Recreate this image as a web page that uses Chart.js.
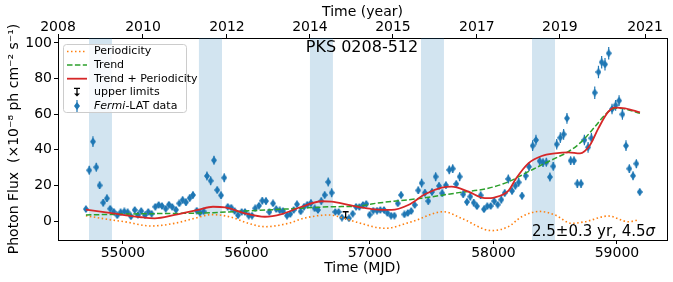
<!DOCTYPE html>
<html><head><meta charset="utf-8">
<script src="https://cdn.jsdelivr.net/npm/chart.js@4"></script>
<style>html,body{margin:0;padding:0;background:#fff;}</style>
</head><body>
<canvas id="c" width="673" height="282"></canvas>
<script>
// ---- data ----
const mjd = [
 54700,54727,54757,54784,54811,54840,54870,54897,54925,54954,
 54981,55011,55038,55065,55095,55121,55148,55178,55205,55232,
 55262,55289,55316,55346,55372,55399,55429,55456,55483,55510,
 55540,55567,55597,55623,55653,55680,55710,55737,55763,55794,
 55820,55848,55877,55904,55931,55961,55988,56018,56045,56071,
 56101,56128,56158,56185,56215,56241,56269,56296,56328,56355,
 56382,56409,56439,56466,56493,56522,56552,56579,56606,56633,
 56662,56690,56719,56746,56773,56830,56860,56887,56914,56943,
 56970,56997,57027,57057,57084,57114,57141,57171,57198,57225,
 57252,57279,57306,57334,57362,57391,57418,57445,57472,57502,
 57532,57559,57585,57615,57642,57670,57699,57726,57755,57785,
 57812,57840,57866,57896,57923,57950,57977,58006,58034,58063,
 58091,58120,58150,58177,58204,58231,58261,58288,58317,58344,
 58374,58401,58428,58457,58484,58512,58541,58568,58595,58625,
 58652,58679,58709,58736,58766,58793,58820,58850,58876,58903,
 58933,58960,58989,59017,59044,59073,59100,59130,59157,59184];
const flux = [
 6.7,28.5,44.6,30.2,20.0,10.3,12.7,6.9,5.2,3.2,
 4.9,5.4,4.9,2.6,6.2,3.4,5.6,3.2,5.1,4.1,
 8.0,9.0,8.4,6.9,9.2,7.9,6.3,9.9,11.8,10.5,
 12.9,14.6,5.8,4.7,5.4,25.3,22.6,34.1,17.4,14.4,
 24.3,8.0,7.5,5.6,3.2,5.1,5.1,3.0,3.0,7.1,
 8.6,11.4,11.2,5.1,9.9,6.7,6.0,5.6,3.0,3.9,
 6.2,9.4,5.4,8.0,9.2,10.1,7.1,6.2,11.2,14.6,
 21.9,15.9,5.1,5.1,1.9,1.5,4.1,8.0,7.9,9.0,
 9.6,3.5,5.8,5.8,6.2,6.2,4.5,3.0,3.0,9.9,
 14.6,3.7,4.5,5.6,9.0,17.2,21.3,15.9,11.2,16.3,
 24.9,19.7,15.6,20.1,28.7,29.4,20.8,24.9,15.0,10.7,
 13.7,10.3,8.3,14.4,6.6,8.3,8.4,11.2,9.2,12.0,
 15.7,23.6,16.9,19.8,21.7,14.2,25.4,30.5,42.3,45.5,
 33.7,32.8,33.0,24.7,30.7,43.1,46.8,48.7,57.7,33.9,
 33.9,21.0,21.0,45.5,41.4,46.5,72.1,83.7,89.2,88.0,
 94.2,62.9,65.0,67.6,59.9,42.3,29.4,25.4,32.2,16.3];
const fluxErr = [
 1.5,2.5,3,2.5,2,2,2,1.5,1.5,1.5,
 1.5,1.5,1.5,1.5,1.5,1.5,1.5,1.5,1.5,1.5,
 1.5,1.5,1.5,1.5,1.5,1.5,1.5,1.5,2,2,
 2,2,1.5,1.5,1.5,2.5,2.5,2.5,2,2,
 2.5,1.5,1.5,1.5,1.5,1.5,1.5,1.5,1.5,1.5,
 1.5,2,2,1.5,1.5,1.5,1.5,1.5,1.5,1.5,
 1.5,1.5,1.5,1.5,1.5,2,1.5,1.5,2,2,
 2.5,2.5,1.5,1.5,1.5,1.5,1.5,1.5,1.5,1.5,
 1.5,1.5,1.5,1.5,1.5,1.5,1.5,1.5,1.5,1.5,
 2,1.5,1.5,1.5,1.5,2,2.5,2,2,2,
 2.5,2,2,2,2.5,2.5,2,2.5,2,2,
 2,2,1.5,2,1.5,1.5,1.5,2,1.5,2,
 2,2.5,2,2,2.5,2,2.5,2.5,3,3,
 2.5,2.5,2.5,2.5,2.5,3,3,3,3,2.5,
 2.5,2.5,2.5,3,3,3,3.5,3.5,3.5,3.5,
 3.5,3,3,3,3,3,2.5,2.5,2.5,2];
const ulMJD = [56803];
const ulFlux = [5.2];

const perMJD  = [54700,54878,55013,55229,55419,55580,55718,55880,56015,56150,56339,56474,56670,56760,56900,57121,57338,57595,57742,57985,58120,58228,58375,58498,58633,58741,58930,59092,59173];
const perFlux = [3.0,0.9,-0.4,-2.8,-1.3,1.5,3.6,2.1,-1.3,-3.2,-1.3,1.7,3.4,2.2,-0.8,-4.1,-0.4,5.2,1.5,-5.4,-3.2,2.4,5.4,3.4,-1.3,-0.4,2.8,-0.4,0.6];

const trendMJD  = [54700,55013,55729,55988,56312,56690,56919,57013,57418,57688,57958,58120,58282,58390,58498,58606,58714,58822,58903,58984,59060,59186];
const trendFlux = [3.4,3.9,4.7,5.6,6.7,8.0,8.4,9.6,12.8,15.6,18.4,22.0,27.7,31.5,35.2,38.9,44.6,53.0,59.6,63.3,63.0,60.5];

const fitMJD  = [54700,54878,55148,55257,55419,55607,55729,55826,55988,56150,56285,56447,56609,56690,56825,56919,57013,57175,57310,57445,57580,57661,57796,57931,58012,58120,58184,58282,58390,58498,58606,58701,58782,58849,58930,58984,59065,59186];
const fitFlux = [6.4,4.7,2.1,1.5,3.4,6.2,8.0,7.7,4.3,2.4,3.9,8.0,11.1,10.9,9.0,7.7,6.7,6.2,9.0,15.0,18.7,19.3,16.5,12.8,13.3,16.9,24.0,32.4,36.5,38.0,38.6,38.0,42.7,52.0,61.4,63.7,63.3,61.0];

const spanStart = [54725,55615,56514,57413,58312];
const spanEnd   = [54911,55802,56700,57599,58498];

const mjdTicks = [55000,56000,57000,58000,59000];
const fluxTicks = [0,20,40,60,80,100];
const yearTickMJD = [54474,55162,55842,56514,57186,57866,58538,59227];
const yearLabels = ['2008','2010','2012','2014','2015','2017','2019','2021'];

const seriesLabels = ['Periodicity','Trend','Trend + Periodicity','upper limits','Fermi-LAT data'];
const sourceName = 'PKS 0208-512';
const periodText = '2.5±0.3 yr, 4.5';

// ---- drawing ----
const FONT = '"DejaVu Sans", sans-serif';
Chart.defaults.font.family = FONT;
Chart.defaults.color = '#000';

const BLUE = '#1f77b4', ORANGE = '#ff7f0e', GREEN = '#2ca02c', RED = '#d62728';

const diamond = document.createElement('canvas');
diamond.width = 6; diamond.height = 8;
(function(){const g = diamond.getContext('2d'); g.fillStyle = BLUE; g.beginPath();
 g.moveTo(3,0); g.lineTo(6,4); g.lineTo(3,8); g.lineTo(0,4); g.closePath(); g.fill();})();

function drawUL(ctx, px, py){
  ctx.beginPath();
  ctx.moveTo(px-3, py); ctx.lineTo(px+3, py);
  ctx.moveTo(px, py); ctx.lineTo(px, py+6);
  ctx.stroke();
  ctx.beginPath();
  ctx.moveTo(px-3, py+5); ctx.lineTo(px+3, py+5); ctx.lineTo(px, py+8); ctx.closePath(); ctx.fill();
}

const extras = {
  id: 'extras',
  beforeDatasetsDraw(chart){
    const {ctx, chartArea:a, scales:{x, y}} = chart;
    ctx.save();
    ctx.fillStyle = 'rgba(31,119,180,0.2)';
    spanStart.forEach((s,i)=>{
      const x0 = x.getPixelForValue(s), x1 = x.getPixelForValue(spanEnd[i]);
      ctx.fillRect(x0, a.top, x1-x0, a.bottom-a.top);
    });
    const meta = chart.getDatasetMeta(0);
    ctx.strokeStyle = BLUE; ctx.lineWidth = 1.2;
    meta.data.forEach((pt,i)=>{
      const yt = y.getPixelForValue(flux[i]+fluxErr[i]);
      const yb = y.getPixelForValue(flux[i]-fluxErr[i]);
      ctx.beginPath(); ctx.moveTo(pt.x, yt); ctx.lineTo(pt.x, yb); ctx.stroke();
    });
    ctx.strokeStyle = '#000'; ctx.fillStyle = '#000'; ctx.lineWidth = 1.3;
    ulMJD.forEach((m,i)=>drawUL(ctx, x.getPixelForValue(m), y.getPixelForValue(ulFlux[i])));
    ctx.restore();
  },
  afterDraw(chart){
    const {ctx, chartArea:a} = chart;
    ctx.save();
    // right spine
    ctx.strokeStyle = '#000'; ctx.lineWidth = 1;
    ctx.beginPath(); ctx.moveTo(Math.round(a.right)+0.5, a.top); ctx.lineTo(Math.round(a.right)+0.5, a.bottom+0.5); ctx.stroke();
    // annotations
    ctx.fillStyle = '#000';
    ctx.textBaseline = 'middle';
    ctx.font = '16px ' + FONT;
    ctx.textAlign = 'center';
    ctx.fillText(sourceName, 362, 48);
    ctx.textAlign = 'left';
    ctx.font = 'italic 15px ' + FONT;
    const sigW = ctx.measureText('σ').width;
    ctx.font = '15px ' + FONT;
    const w = ctx.measureText(periodText).width;
    const xr = 655;
    ctx.fillText(periodText, xr - sigW - w, 232);
    ctx.font = 'italic 15px ' + FONT;
    ctx.fillText('σ', xr - sigW, 232);

    // legend
    const bx = 63.5, by = 44.5, bw = 123, bh = 68, r = 3;
    ctx.beginPath();
    ctx.moveTo(bx+r, by); ctx.lineTo(bx+bw-r, by); ctx.arcTo(bx+bw, by, bx+bw, by+r, r);
    ctx.lineTo(bx+bw, by+bh-r); ctx.arcTo(bx+bw, by+bh, bx+bw-r, by+bh, r);
    ctx.lineTo(bx+r, by+bh); ctx.arcTo(bx, by+bh, bx, by+bh-r, r);
    ctx.lineTo(bx, by+r); ctx.arcTo(bx, by, bx+r, by, r); ctx.closePath();
    ctx.fillStyle = 'rgba(255,255,255,0.8)'; ctx.fill();
    ctx.strokeStyle = '#cccccc'; ctx.lineWidth = 1; ctx.stroke();
    const rows = [51.5, 65, 78.7, 92.4, 106];
    const h0 = 67, h1 = 87, tx = 94, hc = 77;
    ctx.lineWidth = 1.5;
    ctx.setLineDash([1.5,2.5]); ctx.strokeStyle = ORANGE;
    ctx.beginPath(); ctx.moveTo(h0, rows[0]); ctx.lineTo(h1, rows[0]); ctx.stroke();
    ctx.setLineDash([5.5,2.4]); ctx.strokeStyle = GREEN;
    ctx.beginPath(); ctx.moveTo(h0, rows[1]); ctx.lineTo(h1, rows[1]); ctx.stroke();
    ctx.setLineDash([]); ctx.strokeStyle = RED; ctx.lineWidth = 1.8;
    ctx.beginPath(); ctx.moveTo(h0, rows[2]); ctx.lineTo(h1, rows[2]); ctx.stroke();
    ctx.strokeStyle = '#000'; ctx.fillStyle = '#000'; ctx.lineWidth = 1.3;
    drawUL(ctx, hc, rows[3]-4);
    ctx.strokeStyle = BLUE; ctx.lineWidth = 1.2;
    ctx.beginPath(); ctx.moveTo(hc, rows[4]-6); ctx.lineTo(hc, rows[4]+6); ctx.stroke();
    ctx.drawImage(diamond, hc-3, rows[4]-4);
    ctx.fillStyle = '#000';
    ctx.font = '11px ' + FONT;
    for (let i = 0; i < 4; i++) ctx.fillText(seriesLabels[i], tx, rows[i]);
    const lab = seriesLabels[4];
    const cut = lab.indexOf('-');
    ctx.font = 'italic 11px ' + FONT;
    ctx.fillText(lab.slice(0,cut), tx, rows[4]);
    const iw = ctx.measureText(lab.slice(0,cut)).width;
    ctx.font = '11px ' + FONT;
    ctx.fillText(lab.slice(cut), tx+iw, rows[4]);
    ctx.restore();
  }
};

const tickFont = {family: FONT, size: 14};
const axisCommon = {
  grid: {display:true, drawOnChartArea:false, drawTicks:true, tickLength:4, color:'#000', tickWidth:1},
  border: {display:true, color:'#000', width:1}
};

new Chart(document.getElementById('c'), {
  data: {
    datasets: [
      {type:'scatter', label: seriesLabels[4], data: mjd.map((v,i)=>({x:v, y:flux[i]})),
       pointStyle: diamond, pointRadius: 4, order: 10, xAxisID:'x', yAxisID:'y'},
      {type:'line', label: seriesLabels[0], data: perMJD.map((v,i)=>({x:v, y:perFlux[i]})),
       borderColor: ORANGE, borderWidth: 1.6, borderDash:[1.5,2.5], pointRadius:0, fill:false,
       cubicInterpolationMode:'monotone', order: 3, xAxisID:'x', yAxisID:'y'},
      {type:'line', label: seriesLabels[1], data: trendMJD.map((v,i)=>({x:v, y:trendFlux[i]})),
       borderColor: GREEN, borderWidth: 1.5, borderDash:[5.5,2.4], pointRadius:0, fill:false,
       cubicInterpolationMode:'monotone', order: 2, xAxisID:'x', yAxisID:'y'},
      {type:'line', label: seriesLabels[2], data: fitMJD.map((v,i)=>({x:v, y:fitFlux[i]})),
       borderColor: RED, borderWidth: 1.8, pointRadius:0, fill:false,
       cubicInterpolationMode:'monotone', order: 1, xAxisID:'x', yAxisID:'y'}
    ]
  },
  options: {
    responsive: false, animation: false, devicePixelRatio: 1,
    layout: {padding: {left:0, right:6, top:0, bottom:0}},
    plugins: {legend:{display:false}, tooltip:{enabled:false}},
    scales: {
      x: {type:'linear', position:'bottom', min:54474, max:59405, ...axisCommon,
        afterBuildTicks: s => { s.ticks = mjdTicks.map(v=>({value:v})); },
        afterFit: s => { s.height = 42; },
        ticks: {font: tickFont, color:'#000', padding:1, maxRotation:0, autoSkip:false, callback: v => String(v)},
        title: {display:true, text:'Time (MJD)', color:'#000', font:{family:FONT, size:14, lineHeight:1}, padding:{top:0, bottom:7}}
      },
      x2: {type:'linear', position:'top', min:54474, max:59405, ...axisCommon,
        afterBuildTicks: s => { s.ticks = yearTickMJD.map(v=>({value:v})); },
        afterFit: s => { s.height = 38; },
        ticks: {font: {family: FONT, size: 14, lineHeight: 1}, color:'#000', padding:0, maxRotation:0, autoSkip:false, callback: (v,i) => yearLabels[i]},
        title: {display:true, text:'Time (year)', color:'#000', font:{family:FONT, size:14, lineHeight:1}, padding:{top:5, bottom:0}}
      },
      y: {type:'linear', position:'left', min:-10.67, max:102.8, ...axisCommon,
        afterBuildTicks: s => { s.ticks = fluxTicks.map(v=>({value:v})); },
        afterFit: s => { s.width = 58; },
        ticks: {font: tickFont, color:'#000', padding:2, callback: v => String(v)},
        title: {display:true, text:'Photon Flux  (×10⁻⁸ ph cm⁻² s⁻¹)', color:'#000', font:{family:FONT, size:14, lineHeight:1}, padding:{top:7, bottom:0}}
      }
    }
  },
  plugins: [extras]
});
</script>
</body></html>
